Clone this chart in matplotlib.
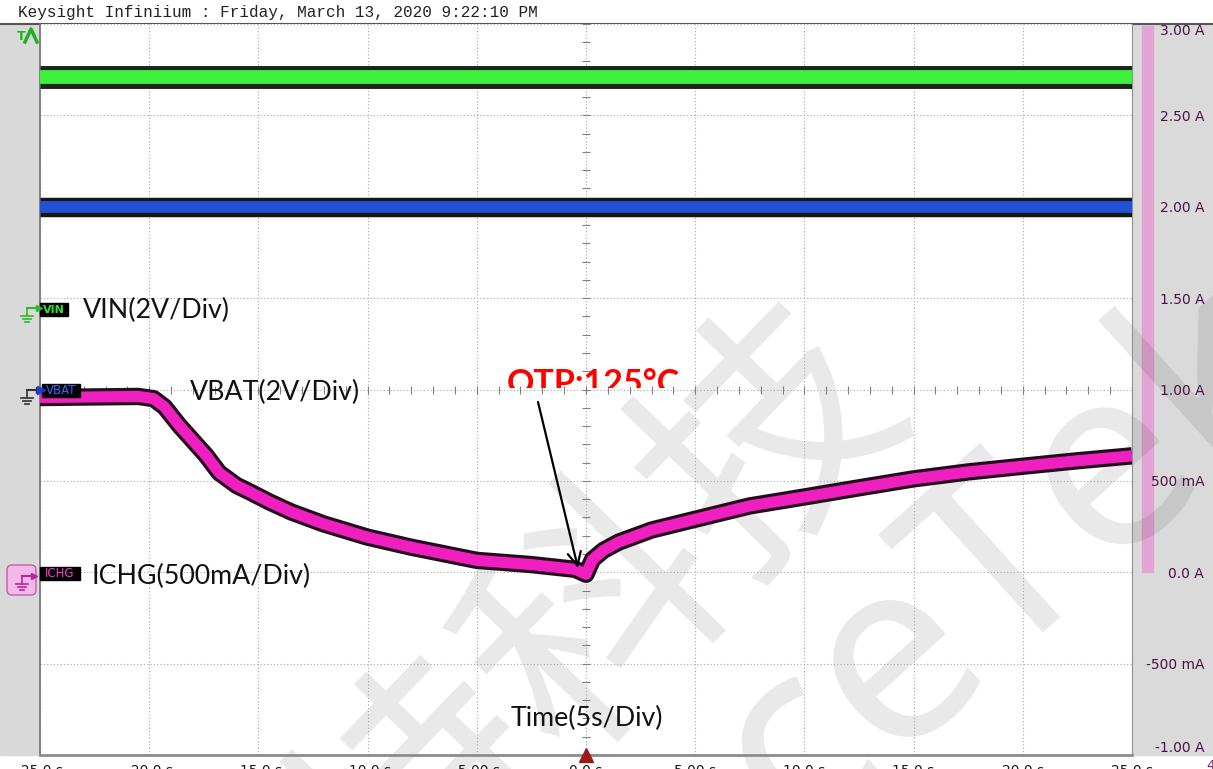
import matplotlib
matplotlib.use("Agg")
import matplotlib.pyplot as plt
import matplotlib.patheffects as pe
from matplotlib.patches import Rectangle, FancyBboxPatch
from matplotlib.transforms import Bbox, TransformedBbox
import numpy as np

# scope settings / readings (time in s, current axis in A)
header = "Keysight Infiniium : Friday, March 13, 2020 9:22:10 PM"
x_ticks = [-25, -20, -15, -10, -5, 0, 5, 10, 15, 20, 25]
x_labels = ["-25.0 s", "-20.0 s", "-15.0 s", "-10.0 s", "-5.00 s", "0.0 s",
            "5.00 s", "10.0 s", "15.0 s", "20.0 s", "25.0 s"]
y_ticks = [-1.0, -0.5, 0.0, 0.5, 1.0, 1.5, 2.0, 2.5, 3.0]
y_labels = ["-1.00 A", "-500 mA", "0.0 A", "500 mA", "1.00 A",
            "1.50 A", "2.00 A", "2.50 A", "3.00 A"]

# traces (screen position expressed on the current axis)
t_flat = [-25, 25]
vin = [2.71, 2.71]
vbat = [2.0, 2.0]
t_ichg = [-25, -20.5, -19.8, -19.3, -18.6, -18, -17.4, -16.8, -16, -15.4,
          -14.5, -13.5, -12, -10, -8, -5, -2.5, -0.5, 0, 0.3, 0.8, 1.5, 3,
          5, 7.5, 10, 12.5, 15, 17.5, 20, 22.5, 25]
ichg = [0.956, 0.962, 0.950, 0.905, 0.80, 0.72, 0.64, 0.545, 0.475, 0.440,
        0.385, 0.330, 0.264, 0.192, 0.137, 0.065, 0.042, 0.016, -0.011,
        0.070, 0.120, 0.165, 0.231, 0.290, 0.363, 0.412, 0.462, 0.511,
        0.549, 0.580, 0.610, 0.637]

W, H = 1213, 769
fig = plt.figure(figsize=(W / 100, H / 100), dpi=100)
fig.patch.set_facecolor("white")

# background layer in pixel coordinates
bg = fig.add_axes([0, 0, 1, 1], zorder=0)
bg.set_xlim(0, W)
bg.set_ylim(H, 0)
bg.axis("off")
bg.add_patch(Rectangle((0, 24), 40, 731, color="#d9d9d9"))
bg.add_patch(Rectangle((1132, 24), 81, 731, color="#dadada"))
bg.add_patch(Rectangle((1142, 26), 11, 546, color="#e2a4d4"))
bg.plot([0, W], [23.5, 23.5], color="#555555", lw=1.5)
bg.text(18, 12, header, family="Liberation Mono", fontsize=11.5,
        color="#222222", va="center")

# main graticule
ax = fig.add_axes([40 / W, 14 / H, 1092 / W, 731 / H], zorder=1)
ax.set_xlim(-25, 25)
ax.set_ylim(-1, 3)
ax.set_xticks(x_ticks, x_labels)
ax.set_yticks(y_ticks, y_labels)
ax.grid(True, color="#a6a6a6", lw=0.8, ls=(0, (1, 2)))
ax.tick_params(length=0)
ax.tick_params(axis="x", pad=6.5, labelsize=10, labelcolor="#1a1a1a")
ax.tick_params(axis="y", left=False, labelleft=False, labelright=True,
               pad=52, labelsize=10, labelcolor="#4b1242")
for lab in ax.get_yticklabels():
    lab.set_ha("right")
labs = ax.get_yticklabels()
labs[-1].set_va("top")
labs[0].set_va("bottom")
ax.spines["top"].set_visible(False)
ax.spines["left"].set_color("#707070")
ax.spines["left"].set_linewidth(1.2)
ax.spines["bottom"].set_color("#8c8c8c")
ax.spines["bottom"].set_linewidth(2)
ax.spines["right"].set_color("#909090")

# small ticks on the centre cross
xs = np.arange(-25, 25.5, 1)
ys = np.arange(-1, 3.05, 0.1)
ax.plot(xs, np.ones_like(xs), ls="none", marker="|", ms=6, mew=0.8,
        color="#808080")
ax.plot(np.zeros_like(ys), ys, ls="none", marker="_", ms=6, mew=0.8,
        color="#808080")

ax.plot(t_flat, vin, color="#3cf03c", lw=10, solid_capstyle="butt", zorder=3,
        path_effects=[pe.Stroke(linewidth=16.5, foreground="#1c241c"), pe.Normal()])
ax.plot(t_flat, vbat, color="#2450d8", lw=8.5, solid_capstyle="butt", zorder=3,
        path_effects=[pe.Stroke(linewidth=14, foreground="#161616"), pe.Normal()])
ax.plot(t_ichg, ichg, color="#f020c0", lw=8, solid_capstyle="butt", zorder=3,
        solid_joinstyle="round",
        path_effects=[pe.Stroke(linewidth=12.5, foreground="#220c1c"), pe.Normal()])

# watermark
ax.text(600, 620, "特科技", transform=bg.transData, rotation=46,
        rotation_mode="anchor", ha="center", va="center", fontsize=180,
        family="Noto Sans CJK SC", color="black", alpha=0.09, zorder=1.5,
        clip_on=False)
ax.text(1010, 560, "ceTek", transform=bg.transData, rotation=42,
        rotation_mode="anchor", ha="center", va="center", fontsize=185,
        family="Noto Sans", color="black", alpha=0.09, zorder=1.5,
        clip_on=False)

# overlay layer for markers and notes
fg = fig.add_axes([0, 0, 1, 1], zorder=3)
fg.set_xlim(0, W)
fg.set_ylim(H, 0)
fg.axis("off")
fg.patch.set_alpha(0)

fg.text(17, 36, "T", color="#22b022", fontsize=9, fontweight="bold", va="center")
fg.plot([25, 31, 37], [42, 29, 42], color="#22b022", lw=2.5)


def ground(x, y, col):
    fg.plot([x, x + 12], [y, y], color=col, lw=1.5)
    fg.plot([x + 12], [y], marker=">", ms=5, color=col)
    fg.plot([x, x], [y, y + 8], color=col, lw=1.2)
    for k, hw in enumerate([6, 4, 2]):
        fg.plot([x - hw, x + hw], [y + 8 + 3 * k] * 2, color=col, lw=1.2)


ground(27, 308, "#2db82d")
fg.add_patch(Rectangle((40, 303), 28, 13, color="black"))
fg.text(54, 310, "VIN", color="#30e030", fontsize=8, fontweight="bold",
        ha="center", va="center")

ground(27, 390, "#333333")
fg.plot([41], [390], marker=">", ms=6, color="#1c3bd0")
fg.add_patch(Rectangle((42, 384), 38, 13, color="black"))
fg.text(61, 390.5, "VBAT", color="#3a66ff", fontsize=8.5, ha="center", va="center")

fg.add_patch(FancyBboxPatch((7, 565), 29, 30, boxstyle="round,pad=0,rounding_size=5",
                            facecolor="#f2b8e8", edgecolor="#c060b0", lw=1))
ground(22, 576, "#b02a98")
fg.add_patch(Rectangle((40, 567), 40, 13, color="black"))
fg.text(60, 573.5, "ICHG", color="#ff40d0", fontsize=8.5, ha="center", va="center")

# annotations
txt_kw = dict(family="Lato", fontsize=19.3, color="#111111", va="center")
fg.text(83, 310, "VIN(2V/Div)", **txt_kw)
fg.text(190, 392, "VBAT(2V/Div)", **txt_kw)
fg.text(92, 576, "ICHG(500mA/Div)", **txt_kw)
fg.text(587, 718, "Time(5s/Div)", ha="center", **txt_kw)

otp = fg.text(507, 394, "OTP:125°C", family="Lato", fontweight="bold",
              fontsize=24.5, color="#ff0000", va="baseline")
otp.set_clip_box(TransformedBbox(Bbox.from_extents(0, (H - 388) / H, 1, 1),
                                 fig.transFigure))
otp.set_clip_on(True)
fg.annotate("", xy=(578, 568), xytext=(538, 402),
            arrowprops=dict(arrowstyle="->", lw=1.6, color="black",
                            mutation_scale=24, shrinkA=0, shrinkB=0))

ax.plot([0], [-1], marker="^", ms=10, color="#9b1b1b", clip_on=False, zorder=6)
fg.text(1206, 766, "4", color="#7a2a6a", fontsize=10, va="center")

fig.savefig("out.png", dpi=100)
